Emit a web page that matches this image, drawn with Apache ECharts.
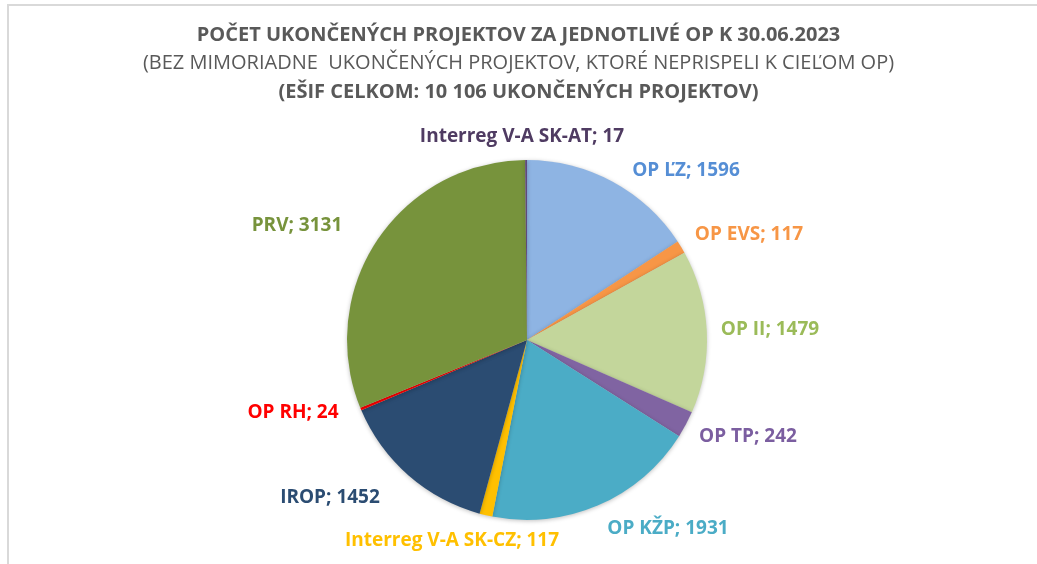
<!DOCTYPE html>
<html>
<head>
<meta charset="utf-8">
<script src="https://cdn.jsdelivr.net/npm/echarts@6/dist/echarts.min.js"></script>
<style>
    html, body { margin: 0; padding: 0; background: #fff; }
    #chart { width: 1037px; height: 564px; }
</style>
</head>
<body>
<div id="chart"></div>
<script>
    // údaje z grafu, v smere hodinových ručičiek od vrcholu
    var categories = ["OP ĽZ", "OP EVS", "OP II", "OP TP", "OP KŽP", "Interreg V-A SK-CZ",
                      "IROP", "OP RH", "PRV", "Interreg V-A SK-AT"];
    var values = [1596, 117, 1479, 242, 1931, 117, 1452, 24, 3131, 17];

    var sliceColors = ["#8EB4E3", "#F79646", "#C3D69B", "#8064A2", "#4BACC6", "#FFC000",
                       "#2B4C72", "#FF0000", "#77933C", "#5F497A"];
    var labelColors = ["#558ED5", "#F79646", "#9BBB59", "#7B5EA0", "#4BACC6", "#FFC000",
                       "#2B4C72", "#FF0000", "#77933C", "#4F3B62"];
    // stredy popisov (ako v Exceli "best fit")
    var labelPos = [[686, 171], [749, 235], [770, 330], [748, 437], [668, 529], [452, 541],
                    [330, 498], [293, 413], [297, 226], [522, 137]];

    var font = "'Open Sans', sans-serif";
    var titlePad = [5, 5, 5, 25]; // posun nadpisu o ~10px doprava

    var chart = echarts.init(document.getElementById("chart"));

    var seriesData = categories.map(function (name, i) {
        return {
            name: name,
            value: values[i],
            itemStyle: { color: sliceColors[i] },
            label: { color: labelColors[i] }
        };
    });

    chart.setOption({
        backgroundColor: "#fff",
        animation: false,
        graphic: [{
            type: "rect",
            shape: { x: 8, y: 5, width: 1040, height: 570 },
            style: { fill: "none", stroke: "#D9D9D9", lineWidth: 2 },
            silent: true
        }],
        title: [
            {
                text: "POČET UKONČENÝCH PROJEKTOV ZA JEDNOTLIVÉ OP K 30.06.2023",
                left: "center", top: 20, padding: titlePad,
                textStyle: { fontFamily: font, fontSize: 20, fontWeight: "bold", color: "#595959" }
            },
            {
                text: "(BEZ MIMORIADNE  UKONČENÝCH PROJEKTOV, KTORÉ NEPRISPELI K CIEĽOM OP)",
                left: "center", top: 48, padding: titlePad,
                textStyle: { fontFamily: font, fontSize: 20, fontWeight: "normal", color: "#595959" }
            },
            {
                text: "(EŠIF CELKOM: 10 106 UKONČENÝCH PROJEKTOV)",
                left: "center", top: 77, padding: titlePad,
                textStyle: { fontFamily: font, fontSize: 20, fontWeight: "bold", color: "#595959" }
            }
        ],
        series: [{
            type: "pie",
            center: [527, 340],
            radius: 180,
            startAngle: 90,
            clockwise: true,
            data: seriesData,
            itemStyle: {
                borderColor: "#fff",
                borderWidth: 0,
                shadowBlur: 4,
                shadowColor: "rgba(0,0,0,0.25)",
                shadowOffsetY: 1
            },
            label: {
                show: true,
                position: "outside",
                formatter: "{b}; {c}",
                fontFamily: font,
                fontSize: 19,
                fontWeight: "bold"
            },
            labelLine: { show: false },
            labelLayout: function (p) {
                var pos = labelPos[p.dataIndex];
                return { x: pos[0], y: pos[1], align: "center", verticalAlign: "middle" };
            }
        }]
    });
</script>
</body>
</html>
